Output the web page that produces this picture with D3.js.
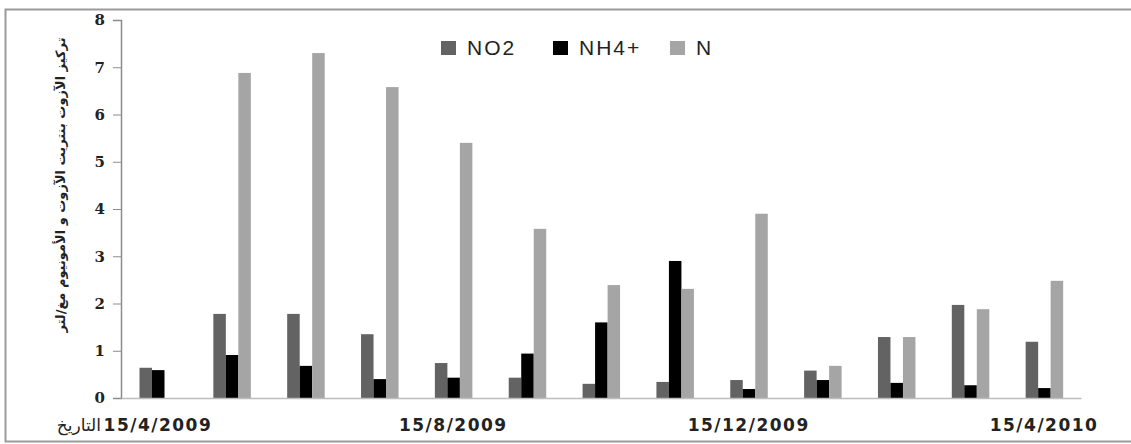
<!DOCTYPE html>
<html>
<head>
<meta charset="utf-8">
<script src="https://cdn.jsdelivr.net/npm/d3@7"></script>
<style>
  body { margin: 0; background: #fff; }
  svg { display: block; }
</style>
</head>
<body>
<svg id="chart"></svg>
<script>
var W = 1131, H = 444;
var margin = {top: 20, right: 50, bottom: 46, left: 121},
    width = 1081 - margin.left,
    height = 398 - margin.top;

// data
var dates = ["15/4/2009", "15/5/2009", "15/6/2009", "15/7/2009", "15/8/2009", "15/9/2009", "15/10/2009",
             "15/11/2009", "15/12/2009", "15/1/2010", "15/2/2010", "15/3/2010", "15/4/2010"];
var seriesNames = ["NO2", "NH4+", "N"];
var no2  = [0.64, 1.78, 1.78, 1.35, 0.74, 0.43, 0.30, 0.34, 0.38, 0.58, 1.29, 1.97, 1.19];
var nh4  = [0.59, 0.91, 0.68, 0.40, 0.43, 0.94, 1.60, 2.90, 0.19, 0.38, 0.32, 0.27, 0.21];
var nTot = [0,    6.88, 7.30, 6.58, 5.40, 3.58, 2.39, 2.31, 3.90, 0.68, 1.29, 1.88, 2.48];
var yTicks = [0, 1, 2, 3, 4, 5, 6, 7, 8];
var shownDates = ["15/4/2009", "15/8/2009", "15/12/2009", "15/4/2010"];
var yTitle = "تركيز الآزوت بنتريت الآزوت و الأمونيوم مغ/لتر";
var xTitle = "التاريخ";

var colors = {"NO2": "#636363", "NH4+": "#000000", "N": "#a5a5a5"};
var values = {"NO2": no2, "NH4+": nh4, "N": nTot};

var svg = d3.select("#chart").attr("width", W).attr("height", H);

// outer frame
svg.append("path")
    .attr("d", "M" + (W + 5) + ",9.5 H5.5 V441.5 H" + (W + 5))
    .attr("fill", "none")
    .attr("stroke", "#9a9a9a")
    .attr("stroke-width", 2);

var g = svg.append("g")
    .attr("transform", "translate(" + margin.left + "," + margin.top + ")");

var x = d3.scaleBand()
    .domain(dates)
    .range([0, width]);

var x1 = d3.scaleBand()
    .domain(seriesNames)
    .range([18.5, 18.5 + 37.5]);

var y = d3.scaleLinear()
    .domain([0, 8])
    .range([height, 0]);

// bars
seriesNames.forEach(function(s) {
    g.append("g")
        .selectAll("rect")
        .data(dates)
        .enter().append("rect")
        .attr("x", function(d) { return x(d) + x1(s); })
        .attr("width", x1.bandwidth())
        .attr("y", function(d, i) { return y(values[s][i]); })
        .attr("height", function(d, i) { return height - y(values[s][i]); })
        .attr("fill", colors[s]);
});

// y axis
var yAxis = g.append("g")
    .call(d3.axisLeft(y).tickValues(yTicks).tickSize(8).tickPadding(8));
yAxis.select(".domain").attr("stroke", "#8c8c8c").attr("stroke-width", 1.5);
yAxis.selectAll(".tick line").attr("stroke", "#8c8c8c");
yAxis.selectAll(".tick text")
    .attr("font-family", "DejaVu Serif")
    .attr("font-weight", "bold")
    .attr("font-size", 15)
    .attr("fill", "#222");

// x axis baseline + date labels
var xAxis = g.append("g")
    .attr("transform", "translate(0," + height + ")")
    .call(d3.axisBottom(x).tickSize(0).tickPadding(21)
        .tickFormat(function(d) { return shownDates.indexOf(d) >= 0 ? d : ""; }));
xAxis.select(".domain").attr("stroke", "#bdbdbd").attr("stroke-width", 1.5);
xAxis.selectAll(".tick text")
    .attr("font-family", "DejaVu Sans")
    .attr("font-weight", "bold")
    .attr("font-size", 17)
    .attr("letter-spacing", 1.5)
    .attr("fill", "#222");

// x title
svg.append("text")
    .attr("x", 101)
    .attr("y", 431)
    .attr("text-anchor", "end")
    .attr("font-family", "DejaVu Sans")
    .attr("font-size", 17)
    .attr("fill", "#222")
    .text(xTitle);

// y title
svg.append("text")
    .attr("transform", "translate(65,185) rotate(-90)")
    .attr("text-anchor", "middle")
    .attr("font-family", "DejaVu Sans")
    .attr("font-weight", "bold")
    .attr("font-size", 13)
    .attr("fill", "#222")
    .text(yTitle);

// legend
var legendX = [441, 553, 670];
var legend = svg.append("g");
seriesNames.forEach(function(s, i) {
    legend.append("rect")
        .attr("x", legendX[i])
        .attr("y", 41)
        .attr("width", 15)
        .attr("height", 14)
        .attr("fill", colors[s]);
    legend.append("text")
        .attr("x", legendX[i] + 26)
        .attr("y", 55)
        .attr("font-family", "Liberation Sans")
        .attr("font-size", 21)
        .attr("letter-spacing", 2)
        .attr("fill", "#222")
        .text(s);
});
</script>
</body>
</html>
